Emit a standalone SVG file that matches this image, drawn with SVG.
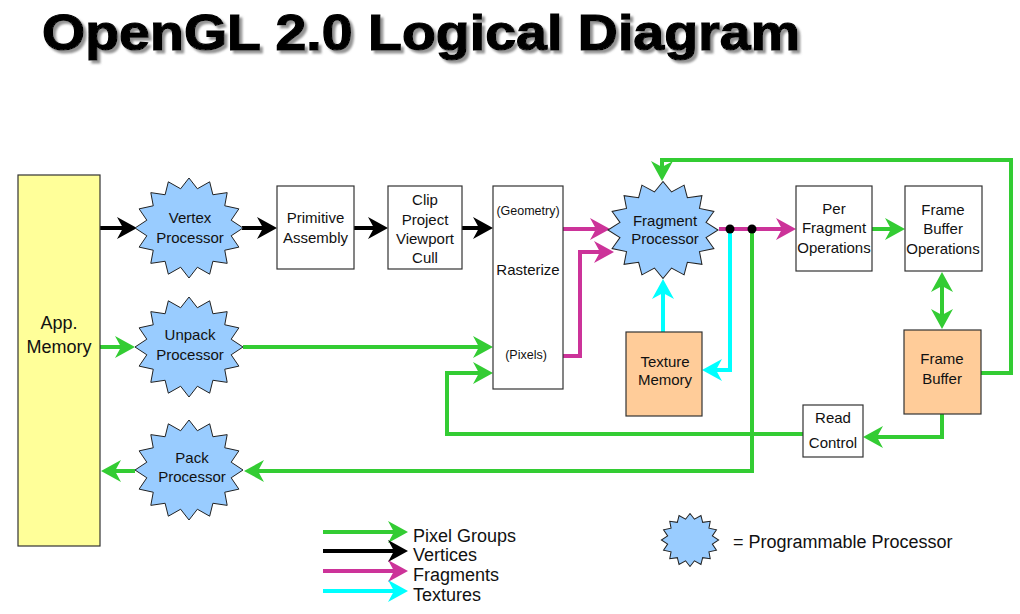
<svg xmlns="http://www.w3.org/2000/svg" xmlns:xlink="http://www.w3.org/1999/xlink" width="1020" height="614" viewBox="0 0 1020 614">
<style>
.box{fill:#fff;stroke:#333;stroke-width:1.2}
.mem{fill:#FFCC99;stroke:#333;stroke-width:1.2}
.app{fill:#FFFF99;stroke:#333;stroke-width:1.2}
.star{fill:#99CCFF;stroke:#222;stroke-width:1}
.t{font-family:"Liberation Sans",Arial,sans-serif;font-size:15px;fill:#111;text-anchor:middle}
.s{font-size:12.5px}
.l{font-family:"Liberation Sans",Arial,sans-serif;font-size:18px;fill:#111}
.c{fill:none;stroke-width:4}
.g{stroke:#33CC33}.k{stroke:#000}.m{stroke:#CC3399}.y{stroke:#00FFFF}
</style>
<defs>
<filter id="shadow" x="-5%" y="-20%" width="110%" height="150%"><feDropShadow dx="3" dy="3" stdDeviation="0.8" flood-color="#888" flood-opacity="0.9"/></filter>
<polygon id="star" points="0,-50 8.39,-39.23 20.67,-46.19 23.89,-33.26 38.18,-35.36 35.75,-22.22 49.89,-19.13 42.17,-7.8 54,0 42.17,7.8 49.89,19.13 35.75,22.22 38.18,35.36 23.89,33.26 20.67,46.19 8.39,39.23 0,50 -8.39,39.23 -20.67,46.19 -23.89,33.26 -38.18,35.36 -35.75,22.22 -49.89,19.13 -42.17,7.8 -54,0 -42.17,-7.8 -49.89,-19.13 -35.75,-22.22 -38.18,-35.36 -23.89,-33.26 -20.67,-46.19 -8.39,-39.23"/>
<marker id="ag" markerUnits="userSpaceOnUse" markerWidth="20" markerHeight="22" viewBox="0 0 20 22" refX="6" refY="11" orient="auto-start-reverse"><path d="M0,0 L20,11 L0,22 L6,11 z" fill="#33CC33"/></marker>
<marker id="ak" markerUnits="userSpaceOnUse" markerWidth="20" markerHeight="22" viewBox="0 0 20 22" refX="6" refY="11" orient="auto"><path d="M0,0 L20,11 L0,22 L6,11 z" fill="#000"/></marker>
<marker id="am" markerUnits="userSpaceOnUse" markerWidth="20" markerHeight="22" viewBox="0 0 20 22" refX="6" refY="11" orient="auto"><path d="M0,0 L20,11 L0,22 L6,11 z" fill="#CC3399"/></marker>
<marker id="ay" markerUnits="userSpaceOnUse" markerWidth="20" markerHeight="22" viewBox="0 0 20 22" refX="6" refY="11" orient="auto"><path d="M0,0 L20,11 L0,22 L6,11 z" fill="#00FFFF"/></marker>
</defs>
<rect width="1020" height="614" fill="#fff"/>
<g id="title">
<text x="42" y="50" font-family="'Liberation Sans',Arial,sans-serif" font-weight="bold" font-size="50" fill="#000" stroke="#000" stroke-width="1.2" textLength="758" lengthAdjust="spacingAndGlyphs" filter="url(#shadow)">OpenGL 2.0 Logical Diagram</text>
</g>
<g id="connectors">
<path class="c k" d="M100,228 H123" marker-end="url(#ak)"/>
<path class="c k" d="M242,228 H263" marker-end="url(#ak)"/>
<path class="c k" d="M354,228 H374" marker-end="url(#ak)"/>
<path class="c k" d="M462,228 H479" marker-end="url(#ak)"/>
<path class="c m" d="M563,229 H596" marker-end="url(#am)"/>
<path class="c m" d="M563,356 H580 V252 H600" marker-end="url(#am)"/>
<path class="c m" d="M719,229 H782" marker-end="url(#am)"/>
<path class="c y" d="M663,332 V293" marker-end="url(#ay)"/>
<path class="c y" d="M730,229 V370 H716" marker-end="url(#ay)"/>
<path class="c g" d="M100,347 H121" marker-end="url(#ag)"/>
<path class="c g" d="M243,347 H479" marker-end="url(#ag)"/>
<path class="c g" d="M803,434 H447 V373 H479" marker-end="url(#ag)"/>
<path class="c g" d="M752,229 V471 H258" marker-end="url(#ag)"/>
<path class="c g" d="M135,471 H115" marker-end="url(#ag)"/>
<path class="c g" d="M872,229 H891" marker-end="url(#ag)"/>
<path class="c g" d="M942,286 V315" marker-start="url(#ag)" marker-end="url(#ag)"/>
<path class="c g" d="M981,373 H1011 V160 H662 V167" marker-end="url(#ag)"/>
<path class="c g" d="M942,414 V437 H877" marker-end="url(#ag)"/>
<circle cx="730" cy="229" r="4.5" fill="#000"/>
<circle cx="752" cy="229" r="4.5" fill="#000"/>
</g>
<g id="app-memory"><rect class="app" x="18" y="175" width="82" height="371"/><text class="t" x="59" y="329" style="font-size:18px">App.</text><text class="t" x="59" y="353" style="font-size:18px">Memory</text></g>
<g id="vertex-processor"><use href="#star" class="star" transform="translate(189,228)"/><text class="t" x="190" y="223">Vertex</text><text class="t" x="190" y="243">Processor</text></g>
<g id="primitive-assembly"><rect class="box" x="277" y="186" width="77" height="83"/><text class="t" x="315.5" y="223">Primitive</text><text class="t" x="315.5" y="243">Assembly</text></g>
<g id="clip"><rect class="box" x="388" y="186" width="74" height="83"/><text class="t" x="425" y="205">Clip</text><text class="t" x="425" y="225">Project</text><text class="t" x="425" y="244">Viewport</text><text class="t" x="425" y="263">Cull</text></g>
<g id="rasterize"><rect class="box" x="493" y="186" width="70" height="203"/><text class="t s" x="528" y="215">(Geometry)</text><text class="t" x="528" y="275">Rasterize</text><text class="t s" x="526" y="359">(Pixels)</text></g>
<g id="fragment-processor"><use href="#star" class="star" transform="translate(663,230) scale(1.02,0.97)"/><text class="t" x="665" y="226">Fragment</text><text class="t" x="665" y="244">Processor</text></g>
<g id="texture-memory"><rect class="mem" x="626" y="332" width="76" height="84"/><text class="t" x="665" y="367">Texture</text><text class="t" x="665" y="385">Memory</text></g>
<g id="per-fragment"><rect class="box" x="796" y="186" width="76" height="85"/><text class="t" x="834" y="214">Per</text><text class="t" x="834" y="233">Fragment</text><text class="t" x="834" y="253">Operations</text></g>
<g id="frame-buffer-ops"><rect class="box" x="905" y="186" width="77" height="85"/><text class="t" x="943" y="215">Frame</text><text class="t" x="943" y="234">Buffer</text><text class="t" x="943" y="254">Operations</text></g>
<g id="frame-buffer"><rect class="mem" x="904" y="330" width="77" height="84"/><text class="t" x="942" y="364">Frame</text><text class="t" x="942" y="384">Buffer</text></g>
<g id="read-control"><rect class="box" x="803" y="405" width="60" height="52"/><text class="t" x="833" y="423">Read</text><text class="t" x="833" y="448">Control</text></g>
<g id="unpack-processor"><use href="#star" class="star" transform="translate(189,347)"/><text class="t" x="190" y="340">Unpack</text><text class="t" x="190" y="360">Processor</text></g>
<g id="pack-processor"><use href="#star" class="star" transform="translate(189,470)"/><text class="t" x="192" y="463">Pack</text><text class="t" x="192" y="482">Processor</text></g>
<g id="legend">
<path class="c g" d="M323,532 H394" marker-end="url(#ag)"/>
<path class="c k" d="M323,551 H394" marker-end="url(#ak)"/>
<path class="c m" d="M323,571 H394" marker-end="url(#am)"/>
<path class="c y" d="M323,591 H394" marker-end="url(#ay)"/>
<text class="l" x="413" y="542">Pixel Groups</text>
<text class="l" x="413" y="561">Vertices</text>
<text class="l" x="413" y="581">Fragments</text>
<text class="l" x="413" y="601">Textures</text>
<use href="#star" class="star" transform="translate(690,540) scale(0.53)" style="stroke-width:1.9"/>
<text class="l" x="733" y="548">= Programmable Processor</text>
</g>
</svg>
